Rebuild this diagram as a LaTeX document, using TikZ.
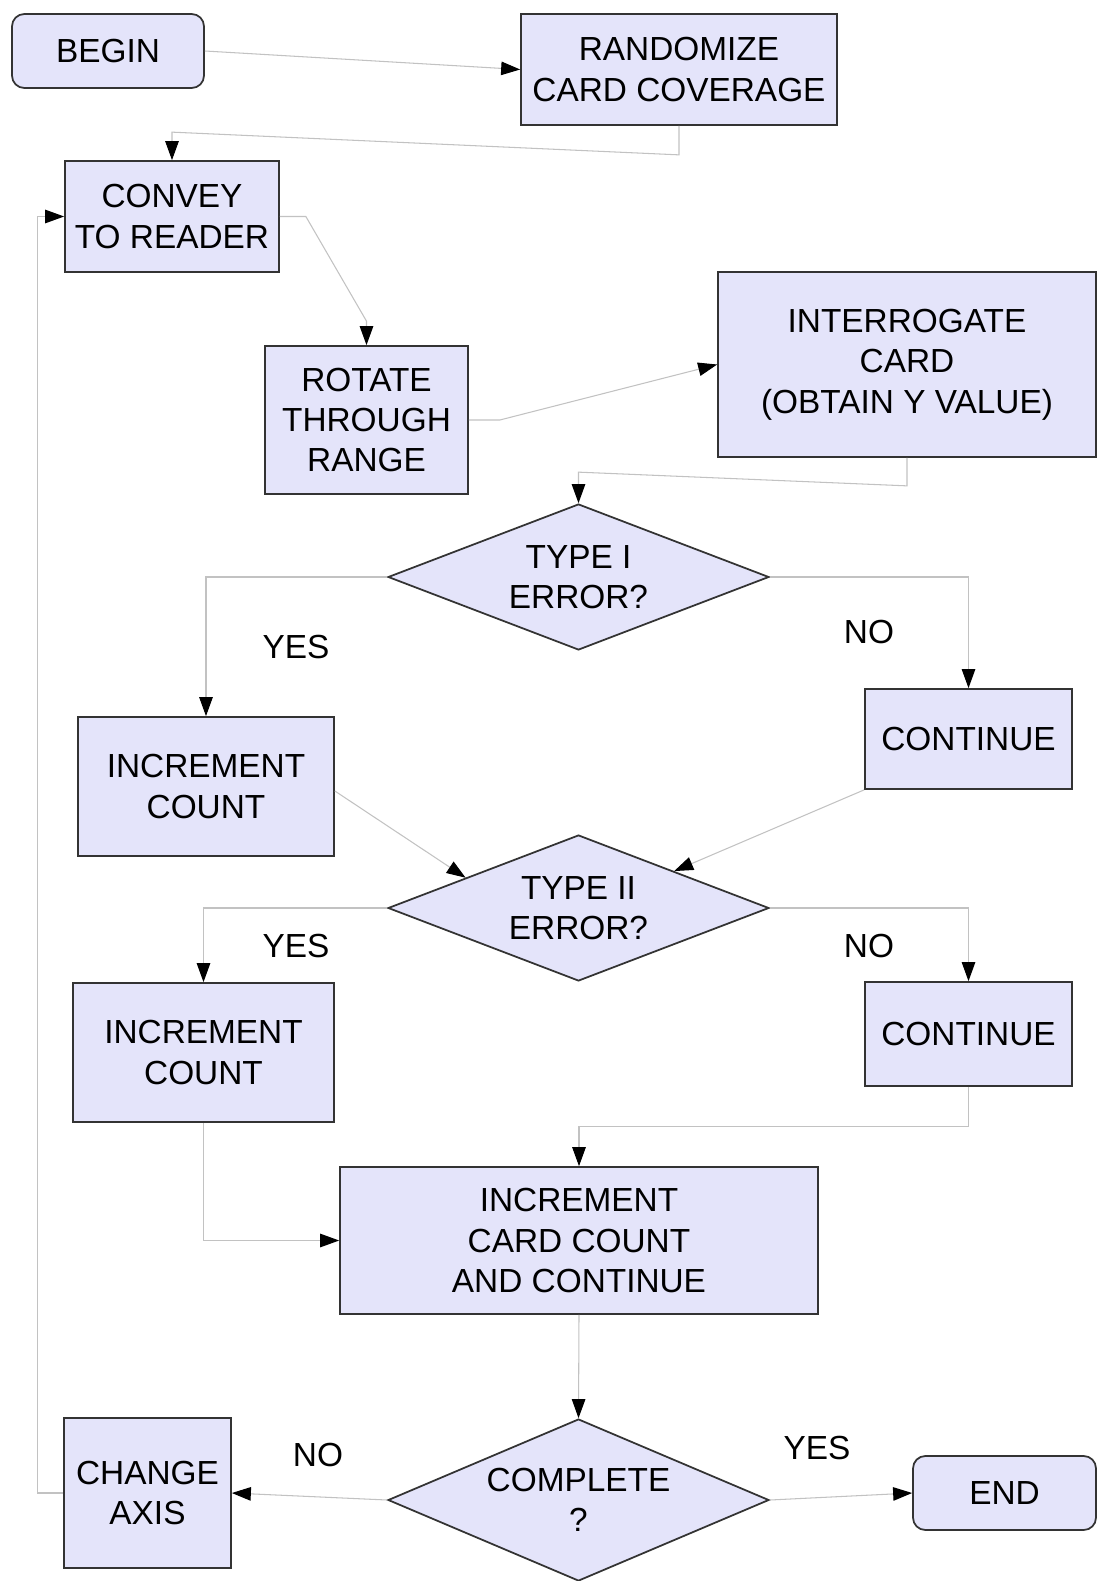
\documentclass[tikz,border=0pt]{standalone}
\usepackage{fontspec}
\setmainfont{Liberation Sans}
\usetikzlibrary{arrows.meta,positioning,shapes.geometric,calc}
\definecolor{cfill}{HTML}{E4E4FA}
\definecolor{cline}{HTML}{333333}
\definecolor{clink}{HTML}{C2C2C2}

\begin{document}
\begin{tikzpicture}[x=0.02cm, y=-0.02cm,
    stepbox/.style={rectangle, draw=cline, fill=cfill, line width=1pt, align=center, inner sep=0pt, font=\fontsize{19}{23}\selectfont},
    termbox/.style={stepbox, rounded corners=7pt},
    decision/.style={diamond, aspect=2.4, draw=cline, fill=cfill, line width=1pt, align=center, inner sep=0pt, minimum width=7.62cm, minimum height=2.92cm, font=\fontsize{19}{23}\selectfont},
    link/.style={draw=clink, line width=0.6pt, -{Triangle[length=0.38cm, width=0.27cm, color=black]}},
    tag/.style={font=\fontsize{19}{23}\selectfont}
]
    \useasboundingbox (0,0) rectangle (1097,1581);

    % Boxes
    \node[termbox, minimum width=3.84cm, minimum height=1.48cm] (begin) at (108,51) {BEGIN};
    \node[stepbox, minimum width=6.32cm, minimum height=2.22cm] (randomize) at (679,69.5) {RANDOMIZE\\CARD COVERAGE};
    \node[stepbox, minimum width=4.28cm, minimum height=2.22cm] (convey) at (172,216.5) {CONVEY\\TO READER};
    \node[stepbox, minimum width=4.06cm, minimum height=2.96cm] (rotate) at (366.5,420) {ROTATE\\THROUGH\\RANGE};
    \node[stepbox, minimum width=7.56cm, minimum height=3.70cm] (interrogate) at (907,364.5) {INTERROGATE\\CARD\\(OBTAIN Y VALUE)};
    \node[decision] (typeI) at (578.5,577) {TYPE I\\ERROR?};
    \node[stepbox, minimum width=4.14cm, minimum height=2.00cm] (continueI) at (968.5,739) {CONTINUE};
    \node[stepbox, minimum width=5.12cm, minimum height=2.78cm] (incI) at (206,786.5) {INCREMENT\\COUNT};
    \node[decision] (typeII) at (578.5,908) {TYPE II\\ERROR?};
    \node[stepbox, minimum width=5.22cm, minimum height=2.78cm] (incII) at (203.5,1052.5) {INCREMENT\\COUNT};
    \node[stepbox, minimum width=4.14cm, minimum height=2.08cm] (continueII) at (968.5,1034) {CONTINUE};
    \node[stepbox, minimum width=9.56cm, minimum height=2.94cm] (cardcount) at (579,1240.5) {INCREMENT\\CARD COUNT\\AND CONTINUE};
    \node[decision, minimum height=3.24cm] (complete) at (578.5,1500) {COMPLETE\\?};
    \node[stepbox, minimum width=3.34cm, minimum height=3.00cm] (axis) at (147.5,1493) {CHANGE\\AXIS};
    \node[termbox, minimum width=3.66cm, minimum height=1.48cm] (stop) at (1004.5,1493) {END};

    % Branch labels
    \node[tag] (yesI) at (296,647) {YES};
    \node[tag] (noI) at (869,632) {NO};
    \node[tag] (yesII) at (296,946) {YES};
    \node[tag] (noII) at (869,946) {NO};
    \node[tag] (noC) at (318,1455) {NO};
    \node[tag] (yesC) at (817,1448) {YES};

    % Links
    \draw[link] (begin.east) -- (randomize.west);
    \draw[link] (randomize.south) -- ++(0,29) -- ([yshift=0.56cm]convey.north) -- (convey.north);
    \draw[link] (convey.east) -- ++(26,0) -- ([yshift=0.48cm]rotate.north) -- (rotate.north);
    \draw[link] (rotate.east) -- ++(31,0) -- (interrogate.west);
    \draw[link] (interrogate.south) -- ++(0,28) -- ([yshift=0.62cm]typeI.north) -- (typeI.north);
    \draw[link] (typeI.west) -| (incI.north);
    \draw[link] (typeI.east) -| (continueI.north);
    \draw[link] ([yshift=-0.09cm]incI.east) -- ($(typeII.west)!0.41!(typeII.north)$);
    \draw[link] (continueI.south west) -- (typeII.north east);
    \draw[link] (typeII.west) -| (incII.north);
    \draw[link] (typeII.east) -| (continueII.north);
    \draw[link] (continueII.south) -- ++(0,40) -| (cardcount.north);
    \draw[link] (incII.south) |- (cardcount.west);
    \draw[link] (cardcount.south) -- (complete.north);
    \draw[link] (complete.west) -- (axis.east);
    \draw[link] (complete.east) -- (stop.west);
    \draw[link] (axis.west) -- ++(-26,0) |- (convey.west);

\end{tikzpicture}
\end{document}
